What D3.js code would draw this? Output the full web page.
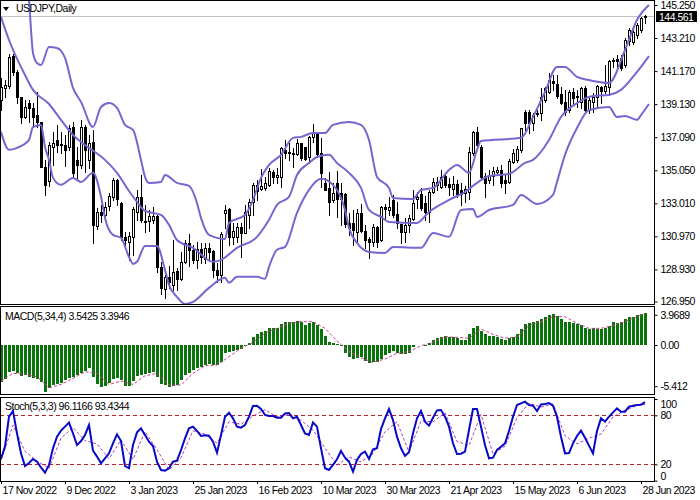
<!DOCTYPE html>
<html>
<head>
<meta charset="utf-8">
<style>
  body { margin: 0; background: #fff; }
  svg text { font-family: "Liberation Sans", sans-serif; font-size: 10.5px; letter-spacing: -0.5px; fill: #000; }
</style>
</head>
<body>
<svg></svg>
<script src="https://cdn.jsdelivr.net/npm/d3@7"></script>
<script>
const width = 700;
const height = 500;
const paneRight = 654;

// daily prices
const open = [139.39,140.13,140.25,142.10,141.12,139.58,138.34,139.20,138.90,138.46,138.03,135.26,134.39,136.49,136.92,136.61,136.61,136.49,137.72,135.69,
  135.38,137.72,135.69,136.80,131.62,132.48,132.29,132.85,133.41,134.45,133.03,130.94,130.63,130.94,132.48,133.41,131.86,131.92,131.99,132.23,
  129.09,127.73,128.47,127.98,128.84,128.35,129.40,130.57,130.14,129.52,130.20,129.58,130.26,130.07,128.90,128.59,132.42,132.66,130.94,130.94,
  131.55,131.18,132.29,133.10,134.15,133.90,133.96,134.15,134.95,134.64,134.64,136.31,136.12,136.12,136.06,136.74,136.49,135.87,137.11,137.35,
  136.12,134.27,133.96,133.22,134.27,133.65,133.59,131.80,131.80,131.25,132.42,131.31,130.81,130.63,131.55,130.75,132.79,132.60,133.22,132.36,
  131.74,131.25,131.68,132.05,133.28,133.59,133.03,132.48,133.71,134.33,134.02,134.70,134.21,133.90,134.21,133.84,133.65,133.71,136.12,137.42,
  136.49,134.70,134.45,134.70,134.95,135.07,134.45,134.33,135.56,135.69,136.31,138.65,138.65,137.97,138.53,138.59,139.39,139.88,140.56,140.38,
  139.76,139.27,138.77,139.88,139.58,139.27,140.13,138.77,139.27,139.58,140.19,139.95,140.19,141.80,141.92,141.98,141.55,143.03,142.97,143.40,
  143.71,144.51];
const high = [140.75,140.62,142.23,142.23,141.24,139.58,139.39,139.39,139.20,139.88,138.03,135.69,136.80,137.42,137.85,137.42,137.23,137.85,138.03,136.49,
  138.16,137.85,137.23,137.54,132.72,132.91,133.10,133.65,134.58,134.52,133.10,131.25,131.25,132.79,133.84,134.76,132.91,132.60,132.79,132.29,
  129.40,128.59,129.15,130.75,129.03,130.01,130.75,131.12,130.44,130.63,130.57,130.57,130.57,130.14,129.33,131.25,132.91,132.72,131.80,131.80,
  131.80,132.91,133.28,134.27,134.45,135.13,134.64,135.19,135.07,135.19,136.49,136.92,136.74,136.43,136.98,136.74,136.49,137.17,137.91,137.42,
  137.05,134.58,134.95,134.27,135.01,134.27,133.65,132.42,132.60,132.66,132.97,131.68,130.94,131.74,131.62,132.85,132.97,133.41,133.53,133.10,
  131.74,132.11,132.29,133.84,133.71,133.96,133.47,133.84,134.58,134.64,135.07,134.76,134.58,134.70,134.45,134.27,134.08,136.49,137.48,137.72,
  136.61,134.89,135.07,135.26,135.26,135.38,134.76,135.75,136.37,136.55,137.66,138.77,138.77,138.59,138.77,140.13,140.19,141.06,140.93,140.93,
  140.19,140.01,140.01,140.13,140.01,140.19,140.25,139.51,139.82,140.32,140.25,141.55,141.86,141.98,142.17,142.17,143.22,143.83,143.83,144.14,
  144.51,144.63];
const low = [138.77,139.58,140.13,140.93,139.20,137.97,138.28,138.03,137.72,137.72,135.26,133.53,134.08,135.38,136.18,136.12,135.32,136.31,134.58,134.58,
  135.19,134.95,135.19,130.57,131.43,131.86,131.99,132.60,133.22,132.91,130.75,130.44,129.52,129.83,131.99,131.86,131.25,131.31,131.80,128.78,
  127.42,127.17,127.79,127.67,127.67,128.28,129.33,129.15,129.33,129.03,129.33,129.33,129.52,128.47,128.16,128.16,131.49,130.44,130.51,130.63,
  129.70,131.18,131.49,132.29,133.22,133.84,133.84,134.08,134.27,134.27,134.02,135.81,135.69,135.26,136.00,135.69,135.69,135.50,136.80,135.87,
  134.02,133.84,132.29,133.10,132.17,131.68,131.55,131.06,130.44,130.57,131.25,130.26,129.64,130.38,130.32,130.69,131.99,132.29,132.17,131.49,
  130.57,130.63,131.25,131.99,132.72,132.60,131.99,131.86,133.65,133.84,133.96,134.02,133.53,133.53,133.41,132.91,133.10,133.28,136.00,136.43,
  134.45,133.41,134.27,134.15,134.76,134.02,133.65,134.27,135.50,135.56,136.18,137.54,137.35,137.54,138.40,138.16,139.27,139.82,140.01,139.51,
  139.14,138.46,138.65,139.08,138.96,138.90,138.65,138.59,138.65,138.96,139.20,139.82,139.70,141.43,141.36,141.24,141.43,142.78,142.85,143.22,
  143.59,144.14];
const close = [140.19,140.32,142.04,141.12,139.58,138.34,138.96,138.90,138.34,138.03,135.26,134.15,136.61,136.74,136.61,136.68,136.31,137.66,134.89,135.38,
  137.72,136.31,136.74,131.68,132.48,132.29,132.79,133.47,134.45,133.28,130.94,130.75,131.00,132.66,133.41,131.99,131.92,132.23,132.23,129.09,
  127.79,128.47,128.16,128.78,128.35,129.40,130.57,130.14,129.52,130.20,129.70,130.26,130.01,128.90,128.59,131.12,132.60,130.94,131.31,131.55,
  131.18,132.48,133.10,134.15,133.77,134.08,134.27,135.01,134.64,134.76,136.43,136.12,136.18,136.06,136.74,135.81,135.75,137.11,137.35,136.06,
  134.89,133.84,133.10,133.65,133.28,133.28,131.74,131.49,131.37,132.42,131.31,130.75,130.63,131.55,130.63,132.79,132.66,132.79,132.29,131.80,
  131.25,131.68,132.11,133.03,133.41,132.72,132.48,133.71,134.33,134.15,134.64,134.15,134.02,134.21,133.59,133.59,133.90,136.18,137.42,136.61,
  134.64,134.27,134.76,135.01,135.07,134.27,134.27,135.63,136.12,136.37,137.66,137.97,137.97,138.46,138.59,139.58,140.13,140.62,140.44,139.64,
  139.20,138.65,139.88,139.51,139.64,140.13,138.77,139.39,139.58,140.25,139.95,140.25,141.80,141.86,141.80,141.36,143.09,143.71,143.59,144.02,
  144.45,144.56];

// Bollinger lines: the readings sit on the bends of each line, so each has its own bar numbers
const upperBars = [6,7,8,9,10,12,14,16,18,20,23,25,27,29,31,33,35,36,37,40,41,44,47,49,50,52,56,57,61,63,65,67,70,73,75,78,81,83,87,90,
  92,94,97,98,103,105,108,112,114,117,119,120,130,133,136,139,141,144,147,152,156,159,162];
const bandUpper = [148.03,145.56,142.29,141.67,141.55,142.66,142.60,141.98,140.13,139.27,137.72,138.96,139.20,138.90,137.85,137.54,135.69,134.64,134.27,134.33,
  134.76,134.27,134.08,133.03,132.11,131.06,130.81,131.80,132.29,133.22,134.58,135.38,136.00,137.05,137.11,137.35,137.35,137.85,138.03,137.85,
  136.92,134.64,133.96,133.34,133.28,133.84,133.96,135.07,135.38,134.89,136.31,136.86,137.05,138.34,139.88,141.43,141.43,140.81,140.62,140.44,142.47,144.33,145.25];
const middleBars = [0,2,6,8,12,15,18,21,26,29,32,34,36,40,42,44,48,53,55,59,64,67,69,72,74,77,79,82,84,87,90,92,95,97,104,107,112,116,119,122,
  127,131,133,137,140,144,148,152,155,159,162];
const bandMiddle = [144.51,143.09,140.93,140.01,139.14,138.16,137.23,136.61,135.69,134.89,133.77,133.10,132.54,132.29,131.68,130.75,130.26,129.40,129.52,130.26,
  130.94,131.99,132.91,133.41,134.76,135.50,135.87,136.00,135.50,134.89,133.96,132.60,132.17,131.86,131.80,132.48,133.22,133.71,134.27,134.70,
  134.82,135.50,135.69,136.92,138.34,139.20,139.64,139.70,140.01,141.12,142.10];
const lowerBars = [0,2,4,7,8,10,11,12,13,15,18,20,23,25,26,28,30,32,33,34,36,39,41,42,44,46,48,52,56,57,59,64,66,67,69,71,74,77,80,83,
  86,87,89,92,96,98,105,108,112,115,118,119,122,128,130,134,138,139,141,144,147,152,154,156,159,160,162];
const bandLower = [137.42,136.31,136.43,136.92,137.72,137.85,136.49,135.69,134.58,134.15,134.58,134.33,134.89,133.41,132.11,131.06,130.88,129.70,129.27,129.40,
  130.38,130.38,128.90,127.98,127.24,126.80,126.93,127.79,128.41,128.10,128.47,128.47,128.35,129.09,130.14,130.32,132.42,133.84,134.52,134.15,
  132.60,131.49,130.57,130.01,129.95,130.32,130.26,131.18,130.94,132.60,132.66,132.17,132.60,132.91,133.53,132.97,133.53,134.33,136.00,137.66,138.77,138.96,138.34,138.40,138.16,138.46,139.14];

const priceTicks = [145.25, 143.21, 141.17, 139.13, 137.09, 135.05, 133.01, 130.97, 128.93, 126.95];
const lastPrice = 144.561;

const macdValues = [-4.82,-4.47,-3.51,-3.38,-3.73,-4.04,-3.95,-4.17,-4.30,-4.47,-4.91,-6.14,-5.70,-5.26,-5.18,-5.04,-4.61,-4.30,-4.17,-3.95,
  -3.73,-3.42,-3.07,-4.17,-5.18,-5.48,-5.39,-5.04,-4.47,-4.39,-4.61,-5.35,-5.35,-4.74,-4.04,-3.95,-3.86,-3.73,-3.51,-4.17,
  -5.13,-5.26,-5.57,-5.39,-5.26,-4.61,-3.95,-3.73,-3.29,-3.07,-2.94,-2.63,-2.50,-2.63,-2.63,-2.19,-1.10,-0.96,-0.79,-0.66,
  -0.53,-0.09,0.31,1.10,1.40,1.67,1.84,2.19,2.19,2.28,2.76,2.98,2.98,3.07,3.16,2.98,2.63,2.85,2.98,2.63,
  2.06,1.23,0.44,0.22,0.09,-0.09,-1.10,-1.54,-1.84,-1.75,-1.62,-2.11,-2.41,-2.19,-2.28,-1.84,-1.32,-1.10,-0.79,-1.01,
  -1.14,-1.14,-1.10,-0.22,0.02,0.02,-0.09,0.22,0.66,0.88,1.10,1.18,1.10,1.01,0.96,0.66,0.66,1.40,2.28,2.54,
  1.84,1.40,1.23,1.23,1.10,0.79,0.66,0.88,1.10,1.40,2.11,2.76,2.94,2.98,3.16,3.38,3.73,3.99,4.08,3.86,
  3.42,3.07,2.98,2.89,2.81,2.63,2.28,2.11,2.19,2.11,2.11,2.19,2.54,2.98,2.85,2.98,3.38,3.73,3.73,3.95,
  4.08,4.25];
const signalBars = d3.range(0, 162, 3).concat(161);
const macdSignal = [-4.74,-3.73,-3.82,-4.17,-5.61,-5.18,-4.39,-3.51,-3.73,-5.18,-4.74,-5.18,-4.04,-3.73,-5.26,-5.26,-3.73,-2.72,-2.63,-1.54,
  -0.44,0.35,1.54,2.19,2.85,3.07,3.07,2.19,0.53,-0.88,-1.67,-2.28,-1.84,-1.10,-0.88,-0.09,0.35,1.10,1.01,
  0.88,2.11,1.40,0.88,1.10,2.54,3.07,3.73,3.73,2.85,2.19,2.19,2.54,3.07,3.73,4.17];
const macdTicks = [3.9689, 0, -5.412];
const macdTickLabels = ["3.9689", "0.00", "-5.412"];

const stochMain = [27,41.6,78.3,85.3,57.9,33.4,17.9,21.6,26.5,23.2,16.3,9.8,19.2,39.6,53.8,61.2,66.1,71,57.9,43.6,
  48.5,55.9,68.1,36.7,29.4,21.2,27.3,33.4,45.7,56.7,48.5,17.9,15.1,43.6,59.1,64,55.9,47.7,42.4,23.2,
  13,12.2,15.1,23.2,24.5,37.5,51.8,64,66.1,60.8,54.7,55.5,55.1,47.7,34.3,55.9,78.3,83.2,76.3,66.1,
  64.9,68.1,78.3,91.4,91.8,87.7,80.4,79.1,79.1,77.1,77.1,82.4,82.8,76.3,78.3,68.1,57.9,55.9,71.4,66.1,
  39.6,15.1,13,19.2,26.1,36.3,28.1,23.2,11,25.3,32.6,35.5,26.5,38.3,39.6,63.2,76.3,87.7,74.2,53.8,
  39.6,30.2,34.7,57.9,76.3,85.3,72.2,67.3,77.1,86.1,86.5,78.3,66.1,45.7,32.6,33,35.5,62,87.7,87.7,
  66.1,43.6,27.3,28.1,37.5,41.6,45.7,60.8,78.3,92.6,94.6,96.7,92.6,91.8,85.3,93.4,93.8,95,91.8,78.3,
  53.8,33.4,33.8,45.7,54.7,61.2,52.6,42.8,33.4,60.8,76.3,72.2,78.3,83.6,88.5,84.4,84.4,90.6,91.8,92.6,
  93,96.1];
const stochSignal = [25,68,36,24,15,52,65,49,45,27,50,26,60,38,13,28,61,57,46,72,
  69,79,87,78,81,74,62,40,19,29,23,33,60,72,35,73,72,83,48,43,
  81,33,42,77,95,90,94,55,45,52,57,78,86,92,93.4];
const stochLevels = [80, 20];
const stochTicks = [100, 80, 20, 0];

const dateBars = d3.range(0, 162, 16);
const dateLabels = ["17 Nov 2022", "9 Dec 2022", "3 Jan 2023", "25 Jan 2023", "16 Feb 2023", "10 Mar 2023",
  "30 Mar 2023", "21 Apr 2023", "15 May 2023", "6 Jun 2023", "28 Jun 2023"];

let svg = d3.select("svg")
    .attr("width", width)
    .attr("height", height)
    .style("display", "block");

// bar number -> pixel, 4px per bar
const scaleX = d3.scaleLinear().domain([0, 161]).range([1, 645]);
const scalePrice = d3.scaleLinear().domain([145.25, 126.95]).range([5, 301.5]);
const scaleMacd = d3.scaleLinear().domain([0, 3.9689]).range([345, 314.8]);
const scaleStoch = d3.scaleLinear().domain([0, 100]).range([480.6, 399]);

const crisp = v => Math.round(v) + 0.5;

const panes = [
  {id: "clipMain", y: 0.5, h: 304},
  {id: "clipMacd", y: 306.5, h: 88},
  {id: "clipStoch", y: 397.5, h: 83.5}
];
const defs = svg.append("defs");
panes.forEach(p => {
  defs.append("clipPath").attr("id", p.id)
    .append("rect").attr("x", 0).attr("y", p.y).attr("width", paneRight).attr("height", p.h);
});

// last price line goes under the candles
svg.append("line")
    .attr("x1", 0).attr("x2", paneRight)
    .attr("y1", crisp(scalePrice(lastPrice))).attr("y2", crisp(scalePrice(lastPrice)))
    .attr("stroke", "#c0c0c0");

// candles
const main = svg.append("g").attr("clip-path", "url(#clipMain)");
const bars = d3.range(open.length);

main.selectAll(".wick")
  .data(bars)
  .enter()
  .append("line")
    .attr("x1", i => scaleX(i) + 0.5)
    .attr("x2", i => scaleX(i) + 0.5)
    .attr("y1", i => Math.round(scalePrice(high[i])))
    .attr("y2", i => Math.round(scalePrice(low[i])) + 1)
    .attr("stroke", "#000")
    .attr("shape-rendering", "crispEdges");

main.selectAll(".body")
  .data(bars)
  .enter()
  .append("rect")
    .attr("x", i => scaleX(i) - 0.5)
    .attr("y", i => crisp(scalePrice(Math.max(open[i], close[i]))))
    .attr("width", 2)
    .attr("height", i => Math.max(1, Math.round(scalePrice(Math.min(open[i], close[i]))) - Math.round(scalePrice(Math.max(open[i], close[i])))))
    .attr("fill", i => close[i] >= open[i] ? "#fff" : "#000")
    .attr("stroke", "#000")
    .attr("shape-rendering", "crispEdges");

// bollinger bands on top of candles
function drawBand(barNums, values) {
  const line = d3.line()
      .x((d, i) => scaleX(barNums[i]))
      .y(d => scalePrice(d))
      .curve(d3.curveMonotoneX);

  main.append("path")
      .datum(values)
      .attr("fill", "none")
      .attr("stroke", "#7468d0")
      .attr("stroke-width", 2)
      .attr("d", line);
}
drawBand(upperBars, bandUpper);
drawBand(middleBars, bandMiddle);
drawBand(lowerBars, bandLower);

// MACD histogram
const macdPane = svg.append("g").attr("clip-path", "url(#clipMacd)");

macdPane.selectAll(".macd")
  .data(macdValues)
  .enter()
  .append("rect")
    .attr("x", (d, i) => scaleX(i) - 1)
    .attr("y", d => Math.round(Math.min(scaleMacd(d), scaleMacd(0))))
    .attr("width", 3)
    .attr("height", d => Math.abs(Math.round(scaleMacd(d)) - Math.round(scaleMacd(0))))
    .attr("fill", "#0b730b")
    .attr("shape-rendering", "crispEdges");

const macdLine = d3.line()
    .x((d, i) => scaleX(signalBars[i]))
    .y(d => scaleMacd(d));

macdPane.append("path")
    .datum(macdSignal)
    .attr("fill", "none")
    .attr("stroke", "#c8408c")
    .attr("stroke-width", 1)
    .attr("stroke-dasharray", "3,2")
    .attr("d", macdLine);

// Stochastic
const stochPane = svg.append("g").attr("clip-path", "url(#clipStoch)");

stochPane.selectAll(".level")
  .data(stochLevels)
  .enter()
  .append("line")
    .attr("x1", 0).attr("x2", paneRight)
    .attr("y1", d => crisp(scaleStoch(d)))
    .attr("y2", d => crisp(scaleStoch(d)))
    .attr("stroke", "#b8202c")
    .attr("stroke-dasharray", "4,3");

const stochSignalLine = d3.line()
    .x((d, i) => scaleX(signalBars[i]))
    .y(d => scaleStoch(d));

stochPane.append("path")
    .datum(stochSignal)
    .attr("fill", "none")
    .attr("stroke", "#b040b0")
    .attr("stroke-width", 1)
    .attr("stroke-dasharray", "3,2")
    .attr("d", stochSignalLine);

const stochMainLine = d3.line()
    .x((d, i) => scaleX(i))
    .y(d => scaleStoch(d));

stochPane.append("path")
    .datum(stochMain)
    .attr("fill", "none")
    .attr("stroke", "#0808c8")
    .attr("stroke-width", 2)
    .attr("d", stochMainLine);

// pane frames
svg.selectAll(".pane")
  .data(panes)
  .enter()
  .append("rect")
    .attr("x", 0.5)
    .attr("y", d => d.y)
    .attr("width", paneRight)
    .attr("height", d => d.h)
    .attr("fill", "none")
    .attr("stroke", "#000")
    .attr("shape-rendering", "crispEdges");

// axes
function styleAxis(g) {
  g.select(".domain").remove();
  g.selectAll("line").attr("stroke", "#000");
  g.selectAll("text").attr("fill", "#000");
  g.attr("font-family", null).attr("font-size", null);
}

svg.append("g")
    .attr("transform", `translate(${paneRight + 0.5}, 0)`)
    .call(d3.axisRight(scalePrice).tickValues(priceTicks).tickFormat(d3.format(".3f")).tickSize(3).tickPadding(3))
    .call(styleAxis);

svg.append("g")
    .attr("transform", `translate(${paneRight + 0.5}, 0)`)
    .call(d3.axisRight(scaleMacd).tickValues(macdTicks).tickFormat((d, i) => macdTickLabels[i]).tickSize(3).tickPadding(3))
    .call(styleAxis);

svg.append("g")
    .attr("transform", `translate(${paneRight + 0.5}, 0)`)
    .call(d3.axisRight(scaleStoch).tickValues(stochTicks).tickSize(3).tickPadding(3))
    .call(styleAxis)
    .selectAll("text")
    .attr("dy", d => d == 100 ? "0.85em" : d == 0 ? "-0.07em" : "0.32em");

const axisDate = svg.append("g")
    .attr("transform", "translate(0, 481)")
    .call(d3.axisBottom(scaleX).tickValues(dateBars).tickFormat((d, i) => dateLabels[i]).tickSize(3).tickPadding(3))
    .call(styleAxis);
axisDate.selectAll("text").style("text-anchor", "start").attr("dx", "0.1em");

// last price flag
svg.append("rect")
    .attr("x", 656).attr("y", 11)
    .attr("width", 41).attr("height", 11)
    .attr("fill", "#000");
svg.append("text")
    .attr("x", 659).attr("y", 20.5)
    .style("fill", "#fff")
    .text(d3.format(".3f")(lastPrice));

// titles
svg.append("path")
    .attr("d", d3.line()([[3, 7], [9, 7], [6, 11]]))
    .attr("fill", "#000");
svg.append("text").attr("x", 16).attr("y", 12).text("USDJPY,Daily");
svg.append("text").attr("x", 5).attr("y", 320).text("MACD(5,34,4) 3.5425 3.3946");
svg.append("text").attr("x", 5).attr("y", 410).text("Stoch(5,3,3) 96.1166 93.4344");
</script>
</body>
</html>
